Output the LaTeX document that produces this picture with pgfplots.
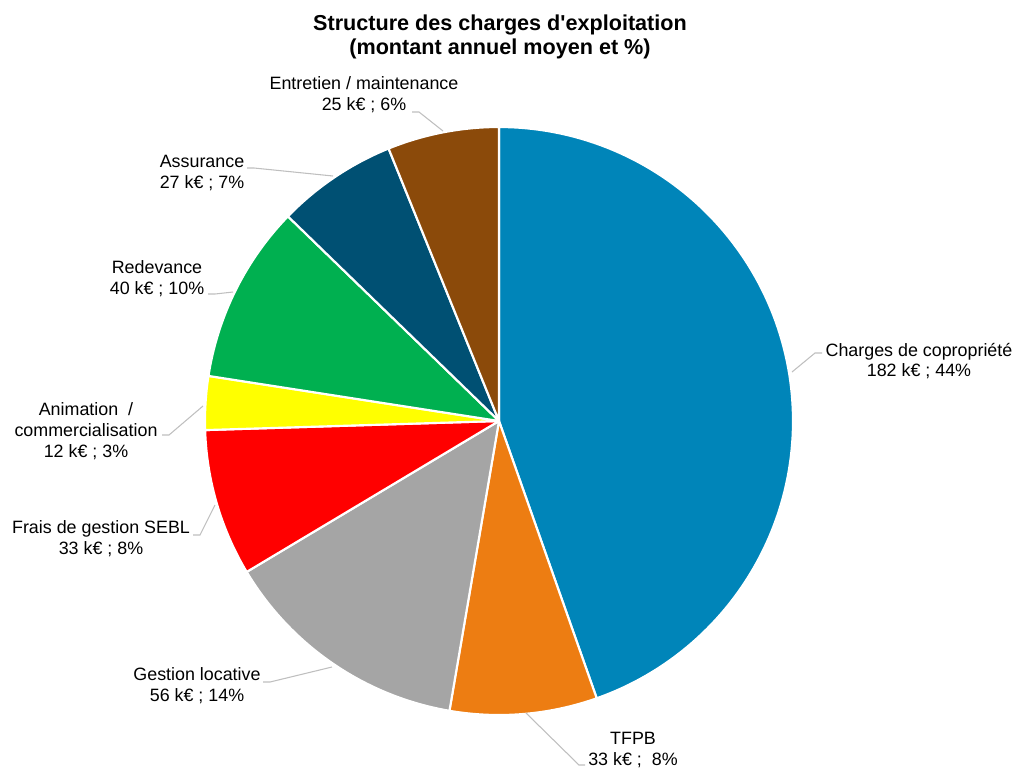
\documentclass[border=0pt]{standalone}
\usepackage{pgfplots}
\usepackage{pgfplotstable}
\pgfplotsset{compat=1.18}
\usepackage{fontspec}
\setmainfont{Liberation Sans}[Ligatures=TeXOff]

\definecolor{col0}{HTML}{0085B9}
\definecolor{col1}{HTML}{ED7D12}
\definecolor{col2}{HTML}{A5A5A5}
\definecolor{col3}{HTML}{FF0000}
\definecolor{col4}{HTML}{FFFF00}
\definecolor{col5}{HTML}{00B050}
\definecolor{col6}{HTML}{005073}
\definecolor{col7}{HTML}{8B4A0A}
\definecolor{leader}{HTML}{BFBFBF}

% values in kEUR, clockwise from 12 o'clock
\pgfplotstableread{
value
182
33
56
33
12
40
27
25
}\piedata

\tikzset{lbl/.style={font=\fontsize{13.4}{15.6}\selectfont, align=center, text=black, inner sep=0pt}}

\begin{document}%
\begin{tikzpicture}
\gdef\total{0}%
\pgfplotsforeachungrouped \i in {0,...,7}{%
  \pgfplotstablegetelem{\i}{value}\of\piedata%
  \pgfmathsetmacro\tmp{\total+\pgfplotsretval}%
  \xdef\total{\tmp}%
}%
\gdef\cum{0}%
\pgfplotsforeachungrouped \i in {0,...,7}{%
  \pgfplotstablegetelem{\i}{value}\of\piedata%
  \pgfmathsetmacro\a{-90+\cum/\total*360}%
  \pgfmathsetmacro\newcum{\cum+\pgfplotsretval}%
  \pgfmathsetmacro\b{-90+\newcum/\total*360}%
  \expandafter\xdef\csname sa\i\endcsname{\a}%
  \expandafter\xdef\csname sb\i\endcsname{\b}%
  \xdef\cum{\newcum}%
}%
\begin{axis}[
  scale only axis, width=761.25pt, height=576.75pt,
  xmin=0, xmax=1015, ymin=0, ymax=769, y dir=reverse,
  hide axis, clip=false,
]
\pgfplotsinvokeforeach{0,...,7}{
  \addplot[fill=col#1, draw=white, line width=1.6pt, line join=round,
    domain=\csname sa#1\endcsname:\csname sb#1\endcsname, samples=120, variable=\t]
    ({499+294*cos(\t)},{421+294*sin(\t)}) -- (axis cs:499,421) -- cycle;
}
% leader lines
\addplot[leader, line width=0.8pt, no marks] coordinates {(792,372) (815,353) (822,353)};
\addplot[leader, line width=0.8pt, no marks] coordinates {(526,713) (579,765) (585,765)};
\addplot[leader, line width=0.8pt, no marks] coordinates {(332,667) (270,682) (263,682)};
\addplot[leader, line width=0.8pt, no marks] coordinates {(215,505) (200,535) (193,535)};
\addplot[leader, line width=0.8pt, no marks] coordinates {(203,406) (169,435) (162,435)};
\addplot[leader, line width=0.8pt, no marks] coordinates {(233,292) (215,294) (208,294)};
\addplot[leader, line width=0.8pt, no marks] coordinates {(333,176) (254,168) (247,168)};
\addplot[leader, line width=0.8pt, no marks] coordinates {(443,131) (419,112) (412,112)};
% labels
\node[lbl] at (axis cs:919,361) {Charges de copropriété\\182 k€ ; 44\%};
\node[lbl] at (axis cs:633,750) {TFPB\\33 k€ ;~~8\%};
\node[lbl] at (axis cs:197,686) {Gestion locative\\56 k€ ; 14\%};
\node[lbl] at (axis cs:101,539) {Frais de gestion SEBL\\33 k€ ; 8\%};
\node[lbl] at (axis cs:86,431) {Animation~~/\\commercialisation\\12 k€ ; 3\%};
\node[lbl] at (axis cs:157,279) {Redevance\\40 k€ ; 10\%};
\node[lbl] at (axis cs:202,173) {Assurance\\27 k€ ; 7\%};
\node[lbl] at (axis cs:364,95) {Entretien / maintenance\\25 k€ ; 6\%};
% title
\node[lbl, font=\fontsize{16.2}{18.2}\selectfont\bfseries] at (axis cs:500,37) {Structure des charges d'exploitation\\(montant annuel moyen et \%)};
\end{axis}
\pgfresetboundingbox
\path (current axis.south west) rectangle (current axis.north east);
\end{tikzpicture}%
\end{document}
